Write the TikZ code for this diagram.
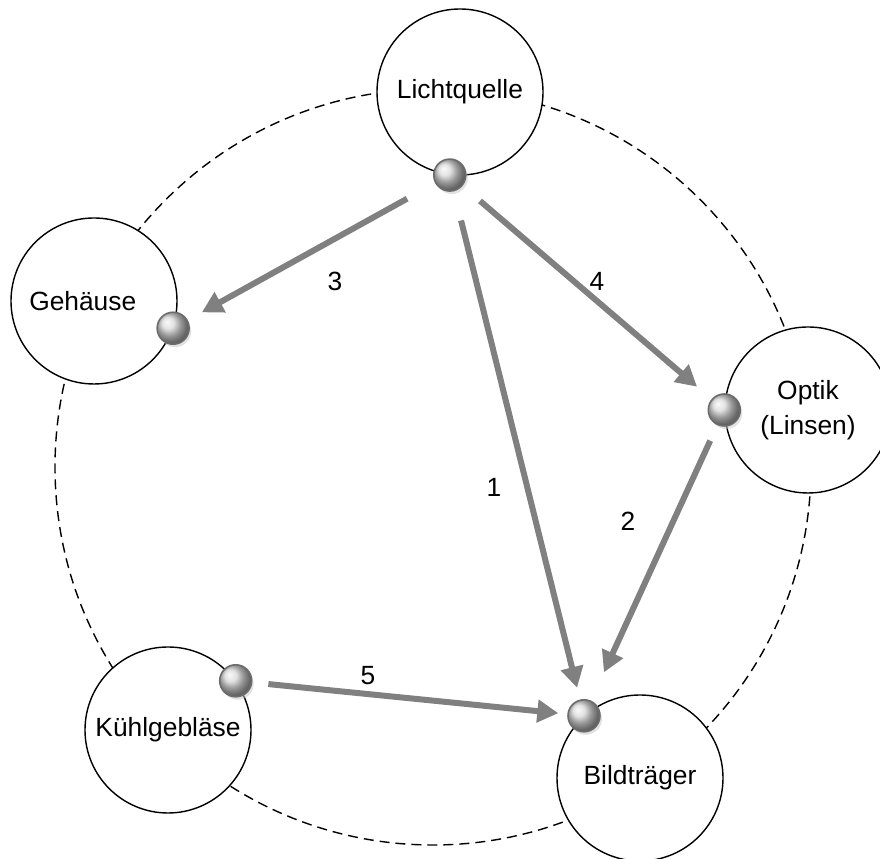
\documentclass[tikz,border=0pt]{standalone}
\usepackage{fontspec}
\setmainfont{Liberation Sans}
\usetikzlibrary{calc,arrows.meta,shadows}

\begin{document}
\begin{tikzpicture}[
  part/.style={circle,draw,line width=0.8pt,fill=white,minimum size=3.32cm,inner sep=0pt,align=center,font=\fontsize{15}{20}\selectfont},
  ball/.style={circle,draw=gray!85!black,line width=0.9pt,minimum size=0.64cm,inner sep=0pt,ball color=gray!30,
    drop shadow={shadow xshift=0.04cm,shadow yshift=-0.06cm,fill=gray!45,opacity=0.5}},
  flow/.style={draw=gray,line width=0.12cm,-{Triangle[length=0.42cm,width=0.44cm]}},
  num/.style={font=\fontsize{15}{18}\selectfont}
]
\useasboundingbox (0,0) rectangle (17.6,17.18);

% Ring
\draw[line width=0.8pt,dash pattern=on 0.2cm off 0.12cm] (8.66,7.84) circle (7.56cm);

% Parts
\node[part] (lq) at (9.2,15.34) {Lichtquelle};
\node[part] (gh) at (1.88,11.16) {Geh\"ause\hspace*{0.45cm}};
\node[part] (op) at (16.16,8.98) {Optik\\(Linsen)};
\node[part] (kg) at (3.36,2.58) {K\"uhlgebl\"ase};
\node[part] (bt) at (12.8,1.62) {Bildtr\"ager};

% Ports
\node[ball] (lqb) at (lq.-97) {};
\node[ball] (ghb) at (gh.-19) {};
\node[ball] (opb) at (op.180) {};
\node[ball] (kgb) at (kg.36) {};
\node[ball] (btb) at (bt.132) {};

% Flows
\draw[flow,shorten <=0.60cm,shorten >=0.24cm] (lqb) -- (btb);
\draw[flow,shorten <=0.34cm,shorten >=0.62cm] (opb) -- (btb);
\draw[flow,shorten <=0.64cm,shorten >=0.32cm] (lqb) -- (ghb);
\draw[flow,shorten <=0.46cm,shorten >=0.38cm] (lqb) -- (opb);
\draw[flow,shorten <=0.32cm,shorten >=0.18cm] (kgb) -- (btb);

% Labels
\node[num] (n1) at (9.88,7.44) {1};
\node[num] (n2) at (12.56,6.76) {2};
\node[num] (n3) at (6.7,11.56) {3};
\node[num] (n4) at (11.94,11.56) {4};
\node[num] (n5) at (7.36,3.66) {5};
\end{tikzpicture}
\end{document}
